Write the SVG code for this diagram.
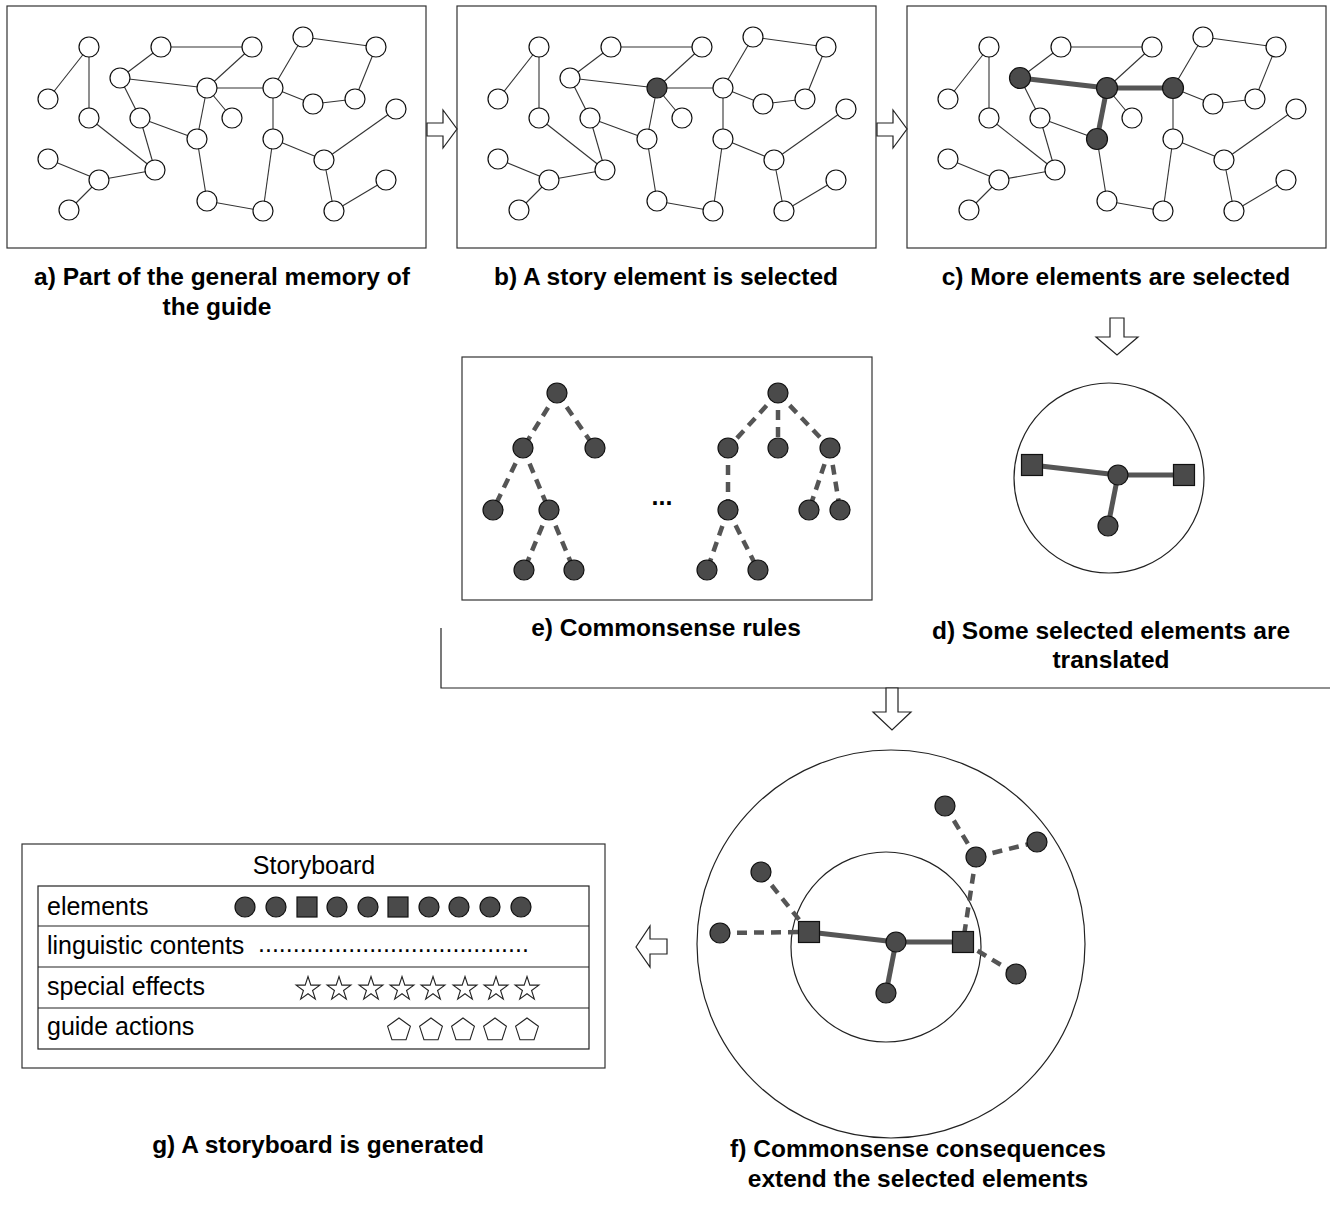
<svg xmlns="http://www.w3.org/2000/svg" xmlns:xlink="http://www.w3.org/1999/xlink" width="1330" height="1214" viewBox="0 0 1330 1214">
<defs>
<style>
.frame{fill:#fff;stroke:#333;stroke-width:1.2}
.e{stroke:#333;stroke-width:1.1;fill:none}
.n{fill:#fff;stroke:#111;stroke-width:1.2}
.f{fill:#4a4a4a;stroke:#111;stroke-width:1.2}
.thick{stroke:#555;stroke-width:5;fill:none}
.dash{stroke:#555;stroke-width:4.5;fill:none;stroke-dasharray:10 7}
.arrow{fill:#fff;stroke:#222;stroke-width:1.2}
.lbl{font-family:"Liberation Sans",Arial,Helvetica,sans-serif;font-weight:bold;font-size:24.5px;fill:#000;text-anchor:middle}
.sb{font-family:"Liberation Sans",Arial,Helvetica,sans-serif;font-size:25px;fill:#000}
.ring{fill:none;stroke:#222;stroke-width:1.2}
.outl{fill:#fff;stroke:#222;stroke-width:1.1}
</style>
<polygon id="star" points="0,-12.5 2.82,-3.88 11.89,-3.86 4.57,1.48 7.35,10.11 0,4.8 -7.35,10.11 -4.57,1.48 -11.89,-3.86 -2.82,-3.88"/>
<polygon id="pent" points="0,-12 11.4,-3.7 7.05,9.7 -7.05,9.7 -11.4,-3.7"/>
</defs>
<rect width="1330" height="1214" fill="#fff"/>

<!-- frames -->
<g id="frame-a"><rect class="frame" x="7" y="6" width="419" height="242"/></g>
<g id="frame-b"><rect class="frame" x="457" y="6" width="419" height="242"/></g>
<g id="frame-c"><rect class="frame" x="907" y="6" width="419" height="242"/></g>
<g id="frame-e"><rect class="frame" x="462" y="357" width="410" height="243"/></g>
<g id="frame-d"><circle class="ring" cx="1109" cy="478" r="95"/></g>
<g id="frame-f"><circle class="ring" cx="891" cy="944" r="194"/><circle class="ring" cx="886" cy="947" r="95"/></g>
<g id="frame-g"><rect class="frame" x="22" y="844" width="583" height="224"/></g>

<g id="connectors">
<g id="edges-a" class="e">
<line x1="89" y1="47" x2="48" y2="99"/><line x1="89" y1="47" x2="89" y2="118"/><line x1="89" y1="118" x2="155" y2="170"/>
<line x1="120" y1="78" x2="161" y2="47"/><line x1="161" y1="47" x2="252" y2="47"/><line x1="252" y1="47" x2="207" y2="88"/>
<line x1="120" y1="78" x2="207" y2="88"/><line x1="120" y1="78" x2="140" y2="118"/><line x1="140" y1="118" x2="155" y2="170"/>
<line x1="140" y1="118" x2="197" y2="139"/><line x1="207" y1="88" x2="273" y2="88"/><line x1="207" y1="88" x2="232" y2="118"/>
<line x1="207" y1="88" x2="197" y2="139"/><line x1="197" y1="139" x2="207" y2="201"/><line x1="207" y1="201" x2="263" y2="211"/>
<line x1="263" y1="211" x2="273" y2="139"/><line x1="273" y1="139" x2="273" y2="88"/><line x1="273" y1="88" x2="303" y2="37"/>
<line x1="303" y1="37" x2="376" y2="47"/><line x1="376" y1="47" x2="355" y2="99"/><line x1="355" y1="99" x2="313" y2="104"/>
<line x1="313" y1="104" x2="273" y2="88"/><line x1="273" y1="139" x2="324" y2="160"/><line x1="324" y1="160" x2="396" y2="109"/>
<line x1="324" y1="160" x2="334" y2="211"/><line x1="334" y1="211" x2="386" y2="180"/><line x1="48" y1="159" x2="99" y2="180"/>
<line x1="99" y1="180" x2="155" y2="170"/><line x1="99" y1="180" x2="69" y2="210"/>
</g>
<use xlink:href="#edges-a" href="#edges-a" transform="translate(450,0)"/>
<use xlink:href="#edges-a" href="#edges-a" transform="translate(900,0)"/>
<g id="edges-c-thick" class="thick">
<line x1="1020" y1="78" x2="1107" y2="88"/><line x1="1107" y1="88" x2="1173" y2="88"/><line x1="1107" y1="88" x2="1097" y2="139"/>
</g>
<g id="edges-e" class="dash">
<line x1="557" y1="393" x2="523" y2="448"/><line x1="557" y1="393" x2="595" y2="448"/>
<line x1="523" y1="448" x2="493" y2="510"/><line x1="523" y1="448" x2="549" y2="510"/>
<line x1="549" y1="510" x2="524" y2="570"/><line x1="549" y1="510" x2="574" y2="570"/>
<line x1="778" y1="393" x2="728" y2="448"/><line x1="778" y1="393" x2="778" y2="448"/><line x1="778" y1="393" x2="830" y2="448"/>
<line x1="728" y1="448" x2="728" y2="510"/><line x1="830" y1="448" x2="809" y2="510"/><line x1="830" y1="448" x2="840" y2="510"/>
<line x1="728" y1="510" x2="707" y2="570"/><line x1="728" y1="510" x2="758" y2="570"/>
</g>
<g id="edges-d" class="thick">
<line x1="1032" y1="465" x2="1118" y2="475"/><line x1="1118" y1="475" x2="1184" y2="475"/><line x1="1118" y1="475" x2="1108" y2="526"/>
</g>
<g id="edges-f">
<g class="thick">
<line x1="809" y1="932" x2="896" y2="942"/><line x1="896" y1="942" x2="963" y2="942"/><line x1="896" y1="942" x2="886" y2="993"/>
</g>
<g class="dash">
<line x1="720" y1="933" x2="809" y2="932"/><line x1="761" y1="872" x2="809" y2="932"/>
<line x1="945" y1="806" x2="976" y2="857"/><line x1="976" y1="857" x2="1037" y2="842"/>
<line x1="976" y1="857" x2="963" y2="942"/><line x1="963" y1="942" x2="1016" y2="974"/>
</g>
</g>
<g id="flow">
<polygon class="arrow" points="427,123 443,123 443,110 457,129 443,148 443,136 427,136"/>
<polygon class="arrow" points="877,123 893,123 893,110 907,129 893,148 893,136 877,136"/>
<polygon class="arrow" points="1110,318 1124,318 1124,337 1138,337 1117,355 1096,337 1110,337"/>
<polyline points="441,628 441,688 1330,688" fill="none" stroke="#222" stroke-width="1.2"/>
<polygon class="arrow" points="886,688 898,688 898,712 911,712 892,730 873,712 886,712"/>
<polygon class="arrow" points="667,939 650,939 650,926 636,947 650,967 650,954 667,954"/>
</g>
</g>

<!-- nodes panel a -->
<g id="nodes-a" class="n">
<g id="a1"><circle cx="89" cy="47" r="10"/></g><g id="a2"><circle cx="48" cy="99" r="10"/></g>
<g id="a3"><circle cx="89" cy="118" r="10"/></g><g id="a4"><circle cx="161" cy="47" r="10"/></g>
<g id="a5"><circle cx="252" cy="47" r="10"/></g><g id="a6"><circle cx="120" cy="78" r="10"/></g>
<g id="a7"><circle cx="207" cy="88" r="10"/></g><g id="a8"><circle cx="273" cy="88" r="10"/></g>
<g id="a9"><circle cx="303" cy="37" r="10"/></g><g id="a10"><circle cx="376" cy="47" r="10"/></g>
<g id="a11"><circle cx="313" cy="104" r="10"/></g><g id="a12"><circle cx="355" cy="99" r="10"/></g>
<g id="a13"><circle cx="140" cy="118" r="10"/></g><g id="a14"><circle cx="232" cy="118" r="10"/></g>
<g id="a15"><circle cx="197" cy="139" r="10"/></g><g id="a16"><circle cx="273" cy="139" r="10"/></g>
<g id="a17"><circle cx="396" cy="109" r="10"/></g><g id="a18"><circle cx="48" cy="159" r="10"/></g>
<g id="a19"><circle cx="99" cy="180" r="10"/></g><g id="a20"><circle cx="155" cy="170" r="10"/></g>
<g id="a21"><circle cx="324" cy="160" r="10"/></g><g id="a22"><circle cx="69" cy="210" r="10"/></g>
<g id="a23"><circle cx="207" cy="201" r="10"/></g><g id="a24"><circle cx="263" cy="211" r="10"/></g>
<g id="a25"><circle cx="386" cy="180" r="10"/></g><g id="a26"><circle cx="334" cy="211" r="10"/></g>
</g>
<!-- nodes panel b -->
<g id="nodes-b" class="n" transform="translate(450,0)">
<g id="b1"><circle cx="89" cy="47" r="10"/></g><g id="b2"><circle cx="48" cy="99" r="10"/></g>
<g id="b3"><circle cx="89" cy="118" r="10"/></g><g id="b4"><circle cx="161" cy="47" r="10"/></g>
<g id="b5"><circle cx="252" cy="47" r="10"/></g><g id="b6"><circle cx="120" cy="78" r="10"/></g>
<g id="b7"><circle class="f" cx="207" cy="88" r="10"/></g><g id="b8"><circle cx="273" cy="88" r="10"/></g>
<g id="b9"><circle cx="303" cy="37" r="10"/></g><g id="b10"><circle cx="376" cy="47" r="10"/></g>
<g id="b11"><circle cx="313" cy="104" r="10"/></g><g id="b12"><circle cx="355" cy="99" r="10"/></g>
<g id="b13"><circle cx="140" cy="118" r="10"/></g><g id="b14"><circle cx="232" cy="118" r="10"/></g>
<g id="b15"><circle cx="197" cy="139" r="10"/></g><g id="b16"><circle cx="273" cy="139" r="10"/></g>
<g id="b17"><circle cx="396" cy="109" r="10"/></g><g id="b18"><circle cx="48" cy="159" r="10"/></g>
<g id="b19"><circle cx="99" cy="180" r="10"/></g><g id="b20"><circle cx="155" cy="170" r="10"/></g>
<g id="b21"><circle cx="324" cy="160" r="10"/></g><g id="b22"><circle cx="69" cy="210" r="10"/></g>
<g id="b23"><circle cx="207" cy="201" r="10"/></g><g id="b24"><circle cx="263" cy="211" r="10"/></g>
<g id="b25"><circle cx="386" cy="180" r="10"/></g><g id="b26"><circle cx="334" cy="211" r="10"/></g>
</g>
<!-- nodes panel c -->
<g id="nodes-c" class="n" transform="translate(900,0)">
<g id="c1"><circle cx="89" cy="47" r="10"/></g><g id="c2"><circle cx="48" cy="99" r="10"/></g>
<g id="c3"><circle cx="89" cy="118" r="10"/></g><g id="c4"><circle cx="161" cy="47" r="10"/></g>
<g id="c5"><circle cx="252" cy="47" r="10"/></g><g id="c6"><circle class="f" cx="120" cy="78" r="10.5"/></g>
<g id="c7"><circle class="f" cx="207" cy="88" r="10.5"/></g><g id="c8"><circle class="f" cx="273" cy="88" r="10.5"/></g>
<g id="c9"><circle cx="303" cy="37" r="10"/></g><g id="c10"><circle cx="376" cy="47" r="10"/></g>
<g id="c11"><circle cx="313" cy="104" r="10"/></g><g id="c12"><circle cx="355" cy="99" r="10"/></g>
<g id="c13"><circle cx="140" cy="118" r="10"/></g><g id="c14"><circle cx="232" cy="118" r="10"/></g>
<g id="c15"><circle class="f" cx="197" cy="139" r="10.5"/></g><g id="c16"><circle cx="273" cy="139" r="10"/></g>
<g id="c17"><circle cx="396" cy="109" r="10"/></g><g id="c18"><circle cx="48" cy="159" r="10"/></g>
<g id="c19"><circle cx="99" cy="180" r="10"/></g><g id="c20"><circle cx="155" cy="170" r="10"/></g>
<g id="c21"><circle cx="324" cy="160" r="10"/></g><g id="c22"><circle cx="69" cy="210" r="10"/></g>
<g id="c23"><circle cx="207" cy="201" r="10"/></g><g id="c24"><circle cx="263" cy="211" r="10"/></g>
<g id="c25"><circle cx="386" cy="180" r="10"/></g><g id="c26"><circle cx="334" cy="211" r="10"/></g>
</g>
<!-- nodes panel e -->
<g id="nodes-e" class="f">
<g id="e1"><circle cx="557" cy="393" r="10"/></g><g id="e2"><circle cx="523" cy="448" r="10"/></g>
<g id="e3"><circle cx="595" cy="448" r="10"/></g><g id="e4"><circle cx="493" cy="510" r="10"/></g>
<g id="e5"><circle cx="549" cy="510" r="10"/></g><g id="e6"><circle cx="524" cy="570" r="10"/></g>
<g id="e7"><circle cx="574" cy="570" r="10"/></g>
<g id="e8"><circle cx="778" cy="393" r="10"/></g><g id="e9"><circle cx="728" cy="448" r="10"/></g>
<g id="e10"><circle cx="778" cy="448" r="10"/></g><g id="e11"><circle cx="830" cy="448" r="10"/></g>
<g id="e12"><circle cx="728" cy="510" r="10"/></g><g id="e13"><circle cx="809" cy="510" r="10"/></g>
<g id="e14"><circle cx="840" cy="510" r="10"/></g><g id="e15"><circle cx="707" cy="570" r="10"/></g>
<g id="e16"><circle cx="758" cy="570" r="10"/></g>
</g>
<text class="sb" x="662" y="505" text-anchor="middle" font-weight="bold">...</text>
<!-- nodes panel d -->
<g id="nodes-d" class="f">
<g id="d1"><rect x="1021.5" y="454.5" width="21" height="21"/></g>
<g id="d2"><circle cx="1118" cy="475" r="10"/></g>
<g id="d3"><rect x="1173.5" y="464.5" width="21" height="21"/></g>
<g id="d4"><circle cx="1108" cy="526" r="10"/></g>
</g>
<!-- nodes panel f -->
<g id="nodes-f" class="f">
<g id="f1"><rect x="798.5" y="921.5" width="21" height="21"/></g>
<g id="f2"><circle cx="896" cy="942" r="10"/></g>
<g id="f3"><rect x="952.5" y="931.5" width="21" height="21"/></g>
<g id="f4"><circle cx="886" cy="993" r="10"/></g>
<g id="f5"><circle cx="720" cy="933" r="10"/></g>
<g id="f6"><circle cx="761" cy="872" r="10"/></g>
<g id="f7"><circle cx="945" cy="806" r="10"/></g>
<g id="f8"><circle cx="976" cy="857" r="10"/></g>
<g id="f9"><circle cx="1037" cy="842" r="10"/></g>
<g id="f10"><circle cx="1016" cy="974" r="10"/></g>
</g>

<!-- storyboard -->
<g id="storyboard">
<text class="sb" x="314" y="874" text-anchor="middle">Storyboard</text>
<rect x="38" y="886" width="551" height="163" fill="none" stroke="#222" stroke-width="1.2"/>
<line x1="38" y1="926" x2="589" y2="926" stroke="#222" stroke-width="1.2"/>
<line x1="38" y1="967" x2="589" y2="967" stroke="#222" stroke-width="1.2"/>
<line x1="38" y1="1008" x2="589" y2="1008" stroke="#222" stroke-width="1.2"/>
<text class="sb" x="47" y="915">elements</text>
<text class="sb" x="47" y="954">linguistic contents</text>
<text class="sb" x="47" y="995">special effects</text>
<text class="sb" x="47" y="1035">guide actions</text>
<g class="f">
<circle cx="245" cy="907" r="10"/><circle cx="276" cy="907" r="10"/><rect x="297" y="897" width="20" height="20"/>
<circle cx="337" cy="907" r="10"/><circle cx="368" cy="907" r="10"/><rect x="388" y="897" width="20" height="20"/>
<circle cx="429" cy="907" r="10"/><circle cx="459" cy="907" r="10"/><circle cx="490" cy="907" r="10"/><circle cx="521" cy="907" r="10"/>
</g>
<text class="sb" x="258" y="952">.......................................</text>
<g class="outl">
<use href="#star" xlink:href="#star" x="308" y="989"/><use href="#star" xlink:href="#star" x="339" y="989"/>
<use href="#star" xlink:href="#star" x="371" y="989"/><use href="#star" xlink:href="#star" x="402" y="989"/>
<use href="#star" xlink:href="#star" x="433" y="989"/><use href="#star" xlink:href="#star" x="465" y="989"/>
<use href="#star" xlink:href="#star" x="496" y="989"/><use href="#star" xlink:href="#star" x="527" y="989"/>
<use href="#pent" xlink:href="#pent" x="399" y="1030"/><use href="#pent" xlink:href="#pent" x="431" y="1030"/>
<use href="#pent" xlink:href="#pent" x="463" y="1030"/><use href="#pent" xlink:href="#pent" x="495" y="1030"/>
<use href="#pent" xlink:href="#pent" x="527" y="1030"/>
</g>
</g>

<!-- labels -->
<g id="labels">
<text class="lbl" x="222" y="285">a) Part of the general memory of</text>
<text class="lbl" x="217" y="315">the guide</text>
<text class="lbl" x="666" y="285">b) A story element is selected</text>
<text class="lbl" x="1116" y="285">c) More elements are selected</text>
<text class="lbl" x="666" y="636">e) Commonsense rules</text>
<text class="lbl" x="1111" y="639">d) Some selected elements are</text>
<text class="lbl" x="1111" y="668">translated</text>
<text class="lbl" x="318" y="1153">g) A storyboard is generated</text>
<text class="lbl" x="918" y="1157">f) Commonsense consequences</text>
<text class="lbl" x="918" y="1187">extend the selected elements</text>
</g>
</svg>
